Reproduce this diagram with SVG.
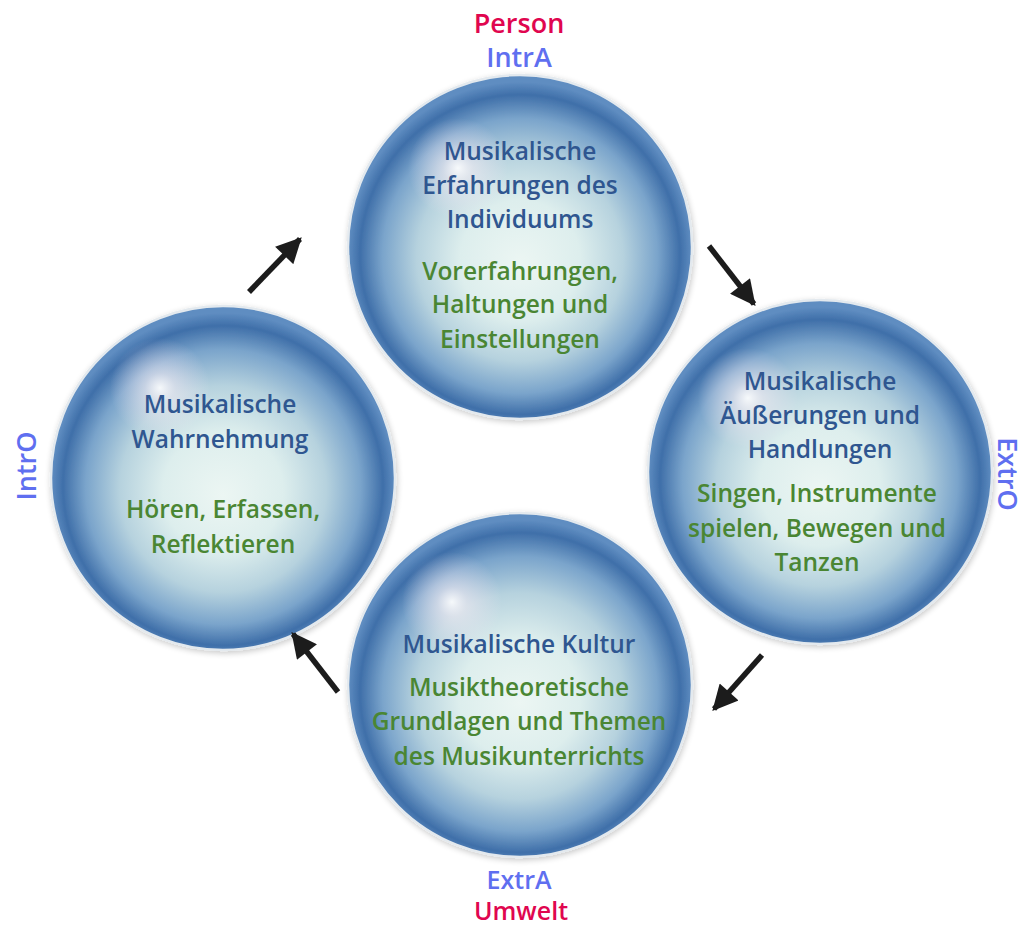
<svg xmlns="http://www.w3.org/2000/svg" width="1027" height="930" viewBox="0 0 1027 930">
<style>
.t{font-family:"Open Sans","Noto Sans",sans-serif;font-size:24.5px;font-weight:600;text-anchor:middle}
.b{fill:#2f5690}
.g{fill:#4a8633}
.lab{font-family:"Open Sans","Noto Sans",sans-serif;font-size:27px;font-weight:600;text-anchor:middle}
.sm{font-size:25px}
.red{fill:#e0064f}
.vio{fill:#5f6ff0}
.sph{fill:url(#sphere);stroke:#e3e9ee;stroke-width:2.5;filter:url(#sh)}
.hl{fill:url(#hl)}
.arr{stroke:#1c1c1c;stroke-width:5.5;fill:none;marker-end:url(#ah)}
</style>
<defs>
<radialGradient id="sphere" cx="50%" cy="52%" r="50%" fx="50%" fy="55%">
<stop offset="0" stop-color="#ecf6f3"/>
<stop offset="0.35" stop-color="#ddeeed"/>
<stop offset="0.6" stop-color="#b6d2de"/>
<stop offset="0.8" stop-color="#7aa4cb"/>
<stop offset="0.93" stop-color="#3f6fa9"/>
<stop offset="1" stop-color="#5f8dc1"/>
</radialGradient>
<radialGradient id="hl" cx="50%" cy="50%" r="50%">
<stop offset="0" stop-color="#ffffff" stop-opacity="0.9"/>
<stop offset="0.3" stop-color="#f8eef4" stop-opacity="0.55"/>
<stop offset="1" stop-color="#f0e4f0" stop-opacity="0"/>
</radialGradient>
<filter id="sh" x="-10%" y="-10%" width="120%" height="120%">
<feGaussianBlur in="SourceAlpha" stdDeviation="3"/>
<feOffset dx="1" dy="2" result="b"/>
<feComponentTransfer><feFuncA type="linear" slope="0.22"/></feComponentTransfer>
<feMerge><feMergeNode/><feMergeNode in="SourceGraphic"/></feMerge>
</filter>
<marker id="ah" viewBox="0 0 10 10" refX="9" refY="5" markerWidth="5" markerHeight="4.6" orient="auto" markerUnits="strokeWidth">
<path d="M0,0 L10,5 L0,10 Z" fill="#1c1c1c"/>
</marker>
</defs>
<rect width="1027" height="930" fill="#ffffff"/>

<g id="labels">
<text class="lab red" x="519" y="33">Person</text>
<text class="lab vio" x="519" y="67">IntrA</text>
<text class="lab sm vio" x="519" y="889">ExtrA</text>
<text class="lab sm red" x="521" y="920">Umwelt</text>
<text class="lab vio" transform="translate(36,466) rotate(-90)">IntrO</text>
<text class="lab vio" transform="translate(998,474) rotate(90)">ExtrO</text>
</g>

<g id="node-top">
<circle class="sph" cx="520" cy="247" r="172"/>
<circle class="hl" cx="458" cy="168" r="50"/>
<text class="t b" x="520" y="160">Musikalische</text>
<text class="t b" x="520" y="194">Erfahrungen des</text>
<text class="t b" x="520" y="228">Individuums</text>
<text class="t g" x="520" y="280">Vorerfahrungen,</text>
<text class="t g" x="520" y="313">Haltungen und</text>
<text class="t g" x="520" y="348">Einstellungen</text>
</g>

<g id="node-right">
<circle class="sph" cx="820" cy="472" r="172"/>
<circle class="hl" cx="748" cy="398" r="50"/>
<text class="t b" x="820" y="390">Musikalische</text>
<text class="t b" x="820" y="424">Äußerungen und</text>
<text class="t b" x="820" y="458">Handlungen</text>
<text class="t g" x="817" y="502">Singen, Instrumente</text>
<text class="t g" x="817" y="537">spielen, Bewegen und</text>
<text class="t g" x="817" y="571">Tanzen</text>
</g>

<g id="node-left">
<circle class="sph" cx="223" cy="478" r="172"/>
<circle class="hl" cx="160" cy="388" r="50"/>
<text class="t b" x="220" y="413">Musikalische</text>
<text class="t b" x="220" y="448">Wahrnehmung</text>
<text class="t g" x="223" y="518">Hören, Erfassen,</text>
<text class="t g" x="223" y="553">Reflektieren</text>
</g>

<g id="node-bottom">
<circle class="sph" cx="520" cy="685" r="172"/>
<circle class="hl" cx="452" cy="602" r="50"/>
<text class="t b" x="519" y="653">Musikalische Kultur</text>
<text class="t g" x="519" y="696">Musiktheoretische</text>
<text class="t g" x="519" y="730">Grundlagen und Themen</text>
<text class="t g" x="519" y="765">des Musikunterrichts</text>
</g>

<g id="connectors">
<line class="arr" x1="249" y1="292" x2="300" y2="239"/>
<line class="arr" x1="709" y1="246" x2="754" y2="304"/>
<line class="arr" x1="762" y1="655" x2="714" y2="709"/>
<line class="arr" x1="338" y1="692" x2="293" y2="634"/>
</g>
</svg>
